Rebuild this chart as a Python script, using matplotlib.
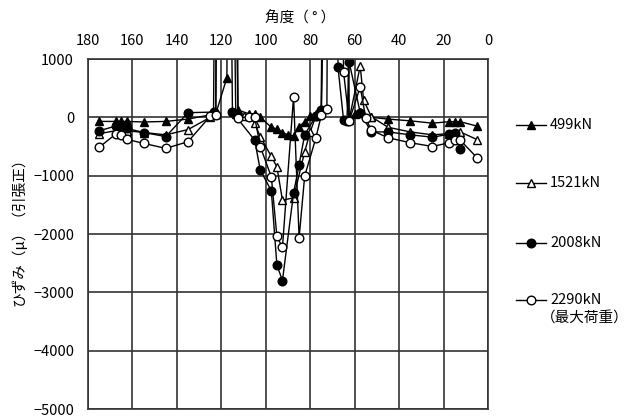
import matplotlib
matplotlib.use("Agg")
import matplotlib.pyplot as plt
from matplotlib.lines import Line2D

plt.rcParams['font.family'] = ['Noto Sans CJK JP', 'DejaVu Sans']
plt.rcParams['axes.unicode_minus'] = True

# ---- data (angle in degrees, strain in micro) ----
ang_499 = [175, 167.5, 165, 162.5, 155, 145, 135, 122.5, 117.5, 115, 112.5, 107.5, 105,
           102.5, 97.5, 95, 92.5, 90, 87.5, 85, 82.5, 80, 77.5, 75, 72.5, 62.5, 60,
           57.5, 52.5, 45, 35, 25, 17.5, 15, 12.5, 5]
val_499 = [-70, -70, -70, -70, -80, -70, -30, 60, 680, 20000, 125, 60, 60,
           0, -170, -200, -260, -300, -320, -160, -75, 20, 60, 120, 20000, -20, 60,
           100, 0, -30, -60, -100, -75, -75, -75, -150]

ang_1521 = [175, 167.5, 165, 162.5, 155, 145, 135, 125, 122.5, 120, 113.5, 110, 107.5,
            105, 102.5, 97.5, 95, 92.5, 87.5, 82.5, 80, 77.5, 75, 65, 62.5, 57.5, 56,
            52.5, 45, 35, 25, 17.5, 15, 12.5, 5]
val_1521 = [-280, -230, -250, -230, -260, -300, -210, 0, 50, 20000, 60, 30, 20,
            -100, -330, -670, -850, -1420, -1380, -590, -250, 20, 150, 20000, -40, 880, 300,
            10, -170, -250, -300, -280, -260, -250, -380]

ang_2008 = [175, 167.5, 165, 162.5, 155, 145, 135, 123.5, 120, 115, 105, 102.5, 97.5,
            95, 92.5, 87.5, 85, 82.5, 77.5, 75, 70, 67.5, 65, 63.5, 62.5, 57.5, 52.5,
            45, 35, 25, 17.5, 15, 12.5]
val_2008 = [-230, -150, -200, -190, -260, -330, 80, 90, 20000, 90, -390, -900, -1260,
            -2530, -2800, -1300, -810, -300, 22, 125, 20000, 860, -46, -60, 950, 80, -250,
            -250, -300, -340, -290, -260, -540]

ang_2290 = [175, 167.5, 165, 162.5, 155, 145, 135, 125, 122.5, 120, 112.5, 107.5, 105,
            102.5, 97.5, 95, 92.5, 87.5, 85, 82.5, 77.5, 75, 72.5, 70, 65, 62.5, 57.5,
            55, 52.5, 45, 35, 25, 17.5, 15, 12.5, 5]
val_2290 = [-515, -286, -300, -377, -446, -532, -418, 20, 40, 20000, -10, 10, 5,
            -500, -1020, -2040, -2230, 354, -2065, -1007, -360, 39, 137, 20000, 782, -63, 520,
            -17, -220, -350, -435, -500, -435, -380, -390, -690]

labels = ['499kN', '1521kN', '2008kN', '2290kN']
note = '（最大荷重）'
x_ticks = [180, 160, 140, 120, 100, 80, 60, 40, 20, 0]
y_ticks = [1000, 0, -1000, -2000, -3000, -4000, -5000]

styles = [dict(marker='^', mfc='black'),
          dict(marker='^', mfc='white'),
          dict(marker='o', mfc='black'),
          dict(marker='o', mfc='white')]

W, H = 630, 418
FS = 10.5
fig = plt.figure(figsize=(W / 100, H / 100), dpi=100)
ax = fig.add_axes([88 / W, 1 - 409 / H, 400 / W, 350 / H])

series = [(ang_499, val_499), (ang_1521, val_1521), (ang_2008, val_2008), (ang_2290, val_2290)]
for (a, v), st in zip(series, styles):
    ax.plot(a, v, color='black', lw=1.0, mec='black', mew=1.0, ms=6.2,
            clip_on=True, **st)

ax.set_xlim(180, 0)
ax.set_ylim(-5000, 1000)
ax.set_xticks(x_ticks)
ax.set_yticks(y_ticks)
ax.xaxis.tick_top()
ax.tick_params(axis='both', length=0, labelsize=FS, colors='black')
ax.tick_params(axis='x', pad=8)
ax.tick_params(axis='y', pad=10)
ax.grid(True, color='#333333', lw=1.2)
ax.set_axisbelow(True)
for s in ax.spines.values():
    s.set_color('#333333')
    s.set_linewidth(1.2)

fig.text(300 / W, 1 - 18 / H, '角度（ ° ）', ha='center', va='center', fontsize=FS)
fig.text(19 / W, 1 - 228 / H, 'ひずみ（μ）（引張正）', ha='center', va='center',
         rotation=90, fontsize=FS)

# legend (manual)
leg_y = [125, 183, 243, 300]
for y, lab, st in zip(leg_y, labels, styles):
    fy = 1 - y / H
    fig.add_artist(Line2D([516 / W, 546 / W], [fy, fy], color='black', lw=1.0,
                          transform=fig.transFigure))
    fig.add_artist(Line2D([531 / W], [fy], color='black', mec='black', mew=1.0, ms=6.2,
                          ls='none', transform=fig.transFigure, **st))
    fig.text(550 / W, fy, lab, ha='left', va='center', fontsize=FS)
fig.text(541 / W, 1 - 319 / H, note, ha='left', va='center', fontsize=FS)

fig.savefig('out.png', dpi=100)
